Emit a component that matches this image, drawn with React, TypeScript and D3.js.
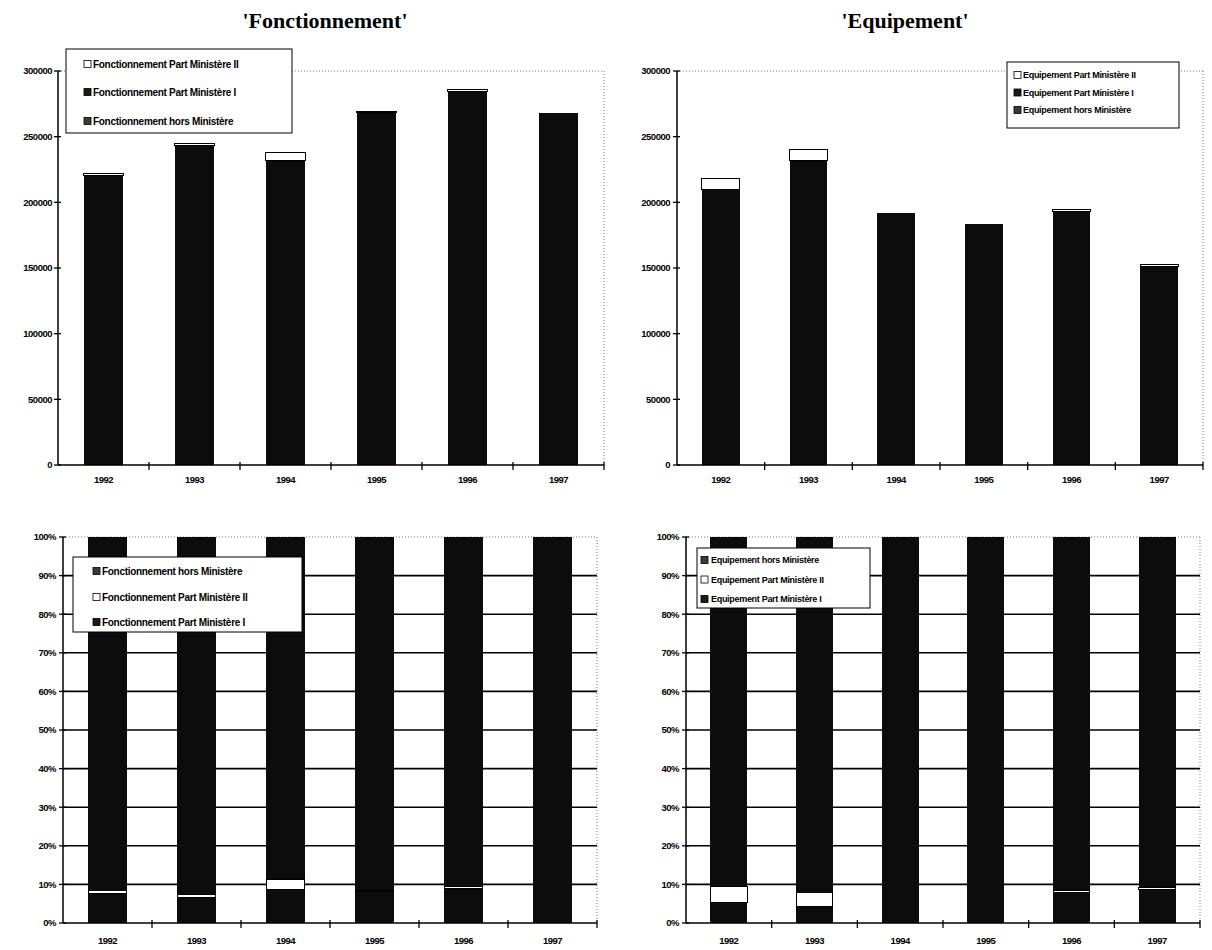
import React from 'react';
import * as d3 from 'd3';

const years = ['1992', '1993', '1994', '1995', '1996', '1997'];

const fonctHors = [203400, 226800, 211100, 246100, 258900, 242500];
const fonctPartI = [17100, 16200, 20700, 22100, 25700, 25500];
const fonctPartII = [1500, 2000, 6200, 800, 1400, 0];

const equipHors = [197700, 221200, 178700, 171300, 177700, 138100];
const equipPartI = [11800, 10300, 13000, 12000, 15300, 13400];
const equipPartII = [9000, 8500, 0, 0, 1200, 800];

const valueTicks = [0, 50000, 100000, 150000, 200000, 250000, 300000];
const pctTicks = [0, 0.1, 0.2, 0.3, 0.4, 0.5, 0.6, 0.7, 0.8, 0.9, 1];

const FILL: Record<string, string> = { hors: '#0c0c0c', p1: '#0c0c0c', p2: '#ffffff' };
const SWATCH: Record<string, string> = { hors: '#3a3a3a', p1: '#1a1a1a', p2: '#ffffff' };

const SANS = "'Liberation Sans', Arial, sans-serif";
const SERIF = "'Liberation Serif', 'Times New Roman', serif";

type LegendItem = { key: string; label: string };

type ChartProps = {
  x0: number; x1: number; yTop: number; yBot: number;
  mode: 'abs' | 'pct';
  hors: number[]; p1: number[]; p2: number[];
  order: string[];
  legend: { x: number; y: number; w: number; h: number; rows: number[]; swX: number; txX: number; items: LegendItem[]; fs: number };
  labelGap: number;
  xLabelY: number;
};

function Chart(p: ChartProps) {
  const rows = years.map((y, i) => ({ year: y, hors: p.hors[i], p1: p.p1[i], p2: p.p2[i] }));
  const stack = d3.stack<any>().keys(p.order)
    .offset(p.mode === 'pct' ? d3.stackOffsetExpand : d3.stackOffsetNone);
  const series = stack(rows);
  const x = d3.scaleBand<string>().domain(years).range([p.x0, p.x1]).paddingInner(0.57).paddingOuter(0.285);
  const y = d3.scaleLinear().domain(p.mode === 'pct' ? [0, 1] : [0, 300000]).range([p.yBot, p.yTop]);
  const ticks = p.mode === 'pct' ? pctTicks : valueTicks;
  const fmt = p.mode === 'pct' ? d3.format('.0%') : d3.format('d');
  const step = x.step();
  const bounds = d3.range(1, years.length + 1).map(i => p.x0 + i * step);

  return (
    <g>
      <line x1={p.x0} x2={p.x1} y1={p.yTop} y2={p.yTop} stroke="#777" strokeWidth={1} strokeDasharray="1,2" />
      <line x1={p.x1} x2={p.x1} y1={p.yTop} y2={p.yBot} stroke="#777" strokeWidth={1} strokeDasharray="1,2" />
      {p.mode === 'pct' && ticks.filter(t => t > 0 && t < 1).map(t => (
        <line key={t} x1={p.x0} x2={p.x1} y1={y(t)} y2={y(t)} stroke="#000" strokeWidth={1.6} />
      ))}
      {series.map(s => (
        <g key={s.key}>
          {s.map((d, i) => {
            const h = y(d[0]) - y(d[1]);
            if (h <= 0) return null;
            const isWhite = s.key === 'p2';
            return (
              <rect key={i} x={x(years[i])} y={y(d[1])} width={x.bandwidth()} height={h}
                fill={FILL[s.key]} stroke={isWhite ? '#000' : 'none'} strokeWidth={isWhite ? 1 : 0}
                shapeRendering="crispEdges" />
            );
          })}
        </g>
      ))}
      <line x1={p.x0} x2={p.x0} y1={p.yTop} y2={p.yBot} stroke="#000" strokeWidth={1.5} />
      <line x1={p.x0} x2={p.x1} y1={p.yBot} y2={p.yBot} stroke="#000" strokeWidth={1.5} />
      {ticks.map(t => (
        <g key={t}>
          <line x1={p.x0 - 4} x2={p.x0 + 3} y1={y(t)} y2={y(t)} stroke="#000" strokeWidth={1.3} />
          <text x={p.x0 - p.labelGap} y={y(t)} dy="0.35em" textAnchor="end"
            fontFamily={SANS} fontWeight="bold" fontSize={9.5} letterSpacing={-0.5}>{fmt(t)}</text>
        </g>
      ))}
      {bounds.map((b, i) => (
        <line key={i} x1={b} x2={b} y1={p.yBot - 3} y2={p.yBot + 5} stroke="#000" strokeWidth={1.3} />
      ))}
      {years.map(yr => (
        <text key={yr} x={(x(yr) as number) + x.bandwidth() / 2} y={p.xLabelY} dy="0.35em" textAnchor="middle"
          fontFamily={SANS} fontWeight="bold" fontSize={9.5} letterSpacing={-0.5}>{yr}</text>
      ))}
      <rect x={p.legend.x} y={p.legend.y} width={p.legend.w} height={p.legend.h} fill="#fff" stroke="#000" strokeWidth={1} />
      {p.legend.items.map((it, i) => (
        <g key={it.key}>
          <rect x={p.legend.swX} y={p.legend.rows[i] - 3.5} width={7} height={7} fill={SWATCH[it.key]} stroke="#000" strokeWidth={0.8} />
          <text x={p.legend.txX} y={p.legend.rows[i]} dy="0.35em" fontFamily={SANS} fontWeight="bold"
            fontSize={p.legend.fs} letterSpacing={-0.3}>{it.label}</text>
        </g>
      ))}
    </g>
  );
}

export default function App() {
  return (
    <svg width={1212} height={950} style={{ position: 'absolute', left: 0, top: 0, display: 'block', background: '#fff' }}>
      <rect x={0} y={0} width={1212} height={950} fill="#fff" />
      <text x={325} y={28} textAnchor="middle" fontFamily={SERIF} fontWeight="bold" fontSize={22}>'Fonctionnement'</text>
      <text x={905} y={28} textAnchor="middle" fontFamily={SERIF} fontWeight="bold" fontSize={22}>'Equipement'</text>

      <Chart x0={58} x1={604} yTop={71} yBot={465} mode="abs"
        hors={fonctHors} p1={fonctPartI} p2={fonctPartII} order={['hors', 'p1', 'p2']}
        labelGap={6} xLabelY={480}
        legend={{ x: 66, y: 49, w: 226, h: 84, rows: [64, 92, 121], swX: 84, txX: 93, fs: 10,
          items: [
            { key: 'p2', label: 'Fonctionnement Part Ministère II' },
            { key: 'p1', label: 'Fonctionnement Part Ministère I' },
            { key: 'hors', label: 'Fonctionnement hors Ministère' },
          ] }} />

      <Chart x0={677} x1={1203} yTop={71} yBot={465} mode="abs"
        hors={equipHors} p1={equipPartI} p2={equipPartII} order={['hors', 'p1', 'p2']}
        labelGap={7} xLabelY={480}
        legend={{ x: 1007, y: 62, w: 172, h: 66, rows: [75, 92.5, 110], swX: 1014, txX: 1023, fs: 9,
          items: [
            { key: 'p2', label: 'Equipement Part Ministère II' },
            { key: 'p1', label: 'Equipement Part Ministère I' },
            { key: 'hors', label: 'Equipement hors Ministère' },
          ] }} />

      <Chart x0={63} x1={597} yTop={537} yBot={923} mode="pct"
        hors={fonctHors} p1={fonctPartI} p2={fonctPartII} order={['p1', 'p2', 'hors']}
        labelGap={7} xLabelY={941}
        legend={{ x: 73, y: 557, w: 229, h: 75, rows: [571, 597, 622], swX: 93, txX: 102, fs: 10,
          items: [
            { key: 'hors', label: 'Fonctionnement hors Ministère' },
            { key: 'p2', label: 'Fonctionnement Part Ministère II' },
            { key: 'p1', label: 'Fonctionnement Part Ministère I' },
          ] }} />

      <Chart x0={686} x1={1200} yTop={537} yBot={923} mode="pct"
        hors={equipHors} p1={equipPartI} p2={equipPartII} order={['p1', 'p2', 'hors']}
        labelGap={7} xLabelY={941}
        legend={{ x: 697, y: 548, w: 173, h: 60, rows: [560, 579.5, 599], swX: 701, txX: 711, fs: 9,
          items: [
            { key: 'hors', label: 'Equipement hors Ministère' },
            { key: 'p2', label: 'Equipement Part Ministère II' },
            { key: 'p1', label: 'Equipement Part Ministère I' },
          ] }} />
    </svg>
  );
}
